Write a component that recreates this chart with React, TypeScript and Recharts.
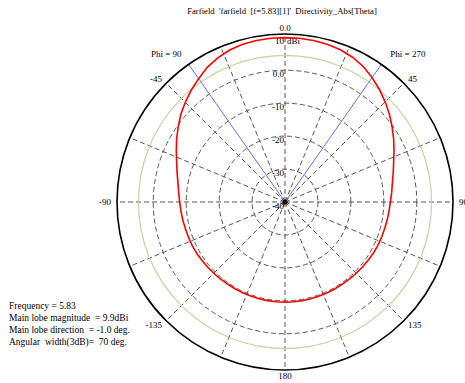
import React from 'react';
import { RadarChart, Radar, PolarGrid, PolarAngleAxis, PolarRadiusAxis } from 'recharts';

// Farfield directivity pattern (dBi) vs Theta angle (deg, clockwise from top)
const angleDeg = [
  0, 5, 10, 15, 20, 25, 30, 35, 40, 45, 50, 55, 60, 65, 70, 75, 80, 85, 90,
  95, 100, 105, 110, 115, 120, 125, 130, 135, 140, 145, 150, 155, 160, 165, 170, 175, 180,
  185, 190, 195, 200, 205, 210, 215, 220, 225, 230, 235, 240, 245, 250, 255, 260, 265, 270,
  275, 280, 285, 290, 295, 300, 305, 310, 315, 320, 325, 330, 335, 340, 345, 350, 355,
];
const directivityDbi = [
  9.9, 9.9, 9.8, 9.6, 9.2, 8.5, 7.5, 6.1, 4.6, 3.0, 1.4, -0.3, -1.9, -3.5, -4.9, -6.0, -6.9, -7.5, -8.0,
  -8.3, -8.5, -8.7, -8.8, -8.9, -9.0, -9.2, -9.3, -9.4, -9.5, -9.6, -9.6, -9.6, -9.6, -9.6, -9.6, -9.6, -9.6,
  -9.6, -9.6, -9.6, -9.6, -9.6, -9.6, -9.6, -9.5, -9.4, -9.3, -9.2, -9.0, -8.9, -8.8, -8.7, -8.5, -8.3, -8.0,
  -7.6, -7.0, -6.1, -5.0, -3.6, -2.0, -0.4, 1.3, 2.8, 4.3, 5.7, 7.2, 8.3, 9.1, 9.6, 9.8, 9.9,
];

// 3 dB beam edges (Phi cut markers)
const beamAnglesDeg = [325, 35];
const beamLabels = ['Phi = 90', 'Phi = 270'];

// reference level circle (dBi) and top scale label
const referenceLevelDbi = 4.5;
const scaleTopDbi = 10;
const scaleUnit = 'dBi';

const angleTicks = [0, 22.5, 45, 67.5, 90, 112.5, 135, 157.5, 180, 202.5, 225, 247.5, 270, 292.5, 315, 337.5];
const angleTickLabels: Record<string, string> = {
  '0': '0.0', '45': '45', '90': '90', '135': '135', '180': '180', '225': '-135', '270': '-90', '315': '-45',
};
const radiusDomain: [number, number] = [-40, 11];
const radiusTicks = [-40, -30, -20, -10, 0];

const titleText = "Farfield  'farfield  [f=5.83][1]'  Directivity_Abs[Theta]";
const infoLines = [
  'Frequency = 5.83',
  'Main lobe magnitude  = 9.9dBi',
  'Main lobe direction  = -1.0 deg.',
  'Angular  width(3dB)=  70 deg.',
];

const FONT = '"Liberation Serif", "Times New Roman", serif';

const tableData = angleDeg.map((a, i) => {
  const bi = beamAnglesDeg.indexOf(a);
  return {
    angle: a,
    dir: directivityDbi[i],
    beam: bi >= 0 ? radiusDomain[1] : null,
    beamLabel: bi >= 0 ? beamLabels[bi] : null,
    level: i === 0 ? referenceLevelDbi : null,
    scaleTop: i === 0 ? scaleTopDbi : null,
  };
});

const AngleTick = (props: any) => {
  const { x, y, payload, textAnchor } = props;
  const label = angleTickLabels[String(payload.value)];
  if (!label) return <g />;
  return (
    <text x={x} y={y} dy="0.35em" textAnchor={textAnchor} fontSize={9} fontFamily={FONT} fill="#000">
      {label}
    </text>
  );
};

const RadiusTick = (props: any) => {
  const { x, y, payload } = props;
  const v = payload.value;
  const txt = v === 0 ? '0.0' : String(v);
  return (
    <text x={x - 1} y={y + 7} textAnchor="end" fontSize={9} fontFamily={FONT} fill="#000">{txt}</text>
  );
};

const BeamShape = (props: any) => {
  const pts = (props.points || []).filter((p: any) => p.payload && p.payload.beam != null);
  const cx = pts.length ? pts[0].cx : 0;
  const cy = pts.length ? pts[0].cy : 0;
  return (
    <g>
      {pts.map((p: any, i: number) => (
        <g key={i}>
          <line x1={p.cx} y1={p.cy} x2={p.x} y2={p.y} stroke="#6b6bff" strokeWidth={1} />
          <text
            x={p.x < p.cx ? p.x - 7 : p.x + 9}
            y={p.y - 7}
            textAnchor={p.x < p.cx ? 'end' : 'start'}
            fontSize={9}
            fontFamily={FONT}
            fill="#000"
          >
            {p.payload.beamLabel}
          </text>
        </g>
      ))}
      <circle cx={cx} cy={cy} r={2.5} fill="#000" />
    </g>
  );
};

const LevelShape = (props: any) => {
  const pts = (props.points || []).filter((p: any) => p.payload && p.payload.level != null);
  return (
    <g>
      {pts.map((p: any, i: number) => (
        <circle
          key={i}
          cx={p.cx}
          cy={p.cy}
          r={Math.hypot(p.x - p.cx, p.y - p.cy)}
          fill="none"
          stroke="#c3d4a0"
          strokeWidth={1.2}
        />
      ))}
    </g>
  );
};

const ScaleTopShape = (props: any) => {
  const pts = (props.points || []).filter((p: any) => p.payload && p.payload.scaleTop != null);
  return (
    <g>
      {pts.map((p: any, i: number) => (
        <g key={i}>
          <text x={p.x - 1} y={p.y + 7} textAnchor="end" fontSize={9} fontFamily={FONT} fill="#000">
            {String(p.payload.scaleTop)}
          </text>
          <text x={p.x + 2} y={p.y + 7} textAnchor="start" fontSize={9} fontFamily={FONT} fill="#000">
            {scaleUnit}
          </text>
        </g>
      ))}
    </g>
  );
};

export default function App() {
  return (
    <div style={{ position: 'absolute', left: 0, top: 0, width: 465, height: 383, background: '#fff' }}>
      <RadarChart
        width={465}
        height={383}
        data={tableData}
        cx={285}
        cy={202}
        innerRadius={0}
        outerRadius={168}
        startAngle={90}
        endAngle={-270}
        margin={{ top: 0, right: 0, bottom: 0, left: 0 }}
      >
        <PolarGrid gridType="circle" stroke="#555" strokeWidth={1} strokeDasharray="5 3" />
        <PolarAngleAxis
          dataKey="angle"
          type="number"
          domain={[0, 360]}
          ticks={angleTicks}
          tick={<AngleTick />}
          tickLine={false}
          tickSize={6}
          axisLineType="circle"
          axisLine={{ stroke: '#000', strokeWidth: 1.6 }}
        />
        <PolarRadiusAxis
          type="number"
          angle={90}
          domain={radiusDomain}
          ticks={radiusTicks}
          tick={<RadiusTick />}
          axisLine={false}
          tickLine={false}
        />
        <Radar dataKey="level" shape={LevelShape} isAnimationActive={false} />
        <Radar dataKey="beam" shape={BeamShape} isAnimationActive={false} />
        <Radar dataKey="scaleTop" shape={ScaleTopShape} isAnimationActive={false} />
        <Radar
          dataKey="dir"
          stroke="#ff0000"
          strokeWidth={1.6}
          fill="none"
          fillOpacity={0}
          dot={false}
          isAnimationActive={false}
        />
      </RadarChart>
      <svg
        width={465}
        height={383}
        style={{ position: 'absolute', left: 0, top: 0, pointerEvents: 'none' }}
      >
        <text x={282} y={14} textAnchor="middle" fontSize={8.7} fontFamily={FONT} fill="#000" style={{ whiteSpace: 'pre' }}>
          {titleText}
        </text>
        {infoLines.map((t, i) => (
          <text
            key={i}
            x={9}
            y={308.5 + i * 12.3}
            fontSize={9.5}
            fontFamily={FONT}
            fill="#000"
            style={{ whiteSpace: 'pre' }}
          >
            {t}
          </text>
        ))}
      </svg>
    </div>
  );
}
